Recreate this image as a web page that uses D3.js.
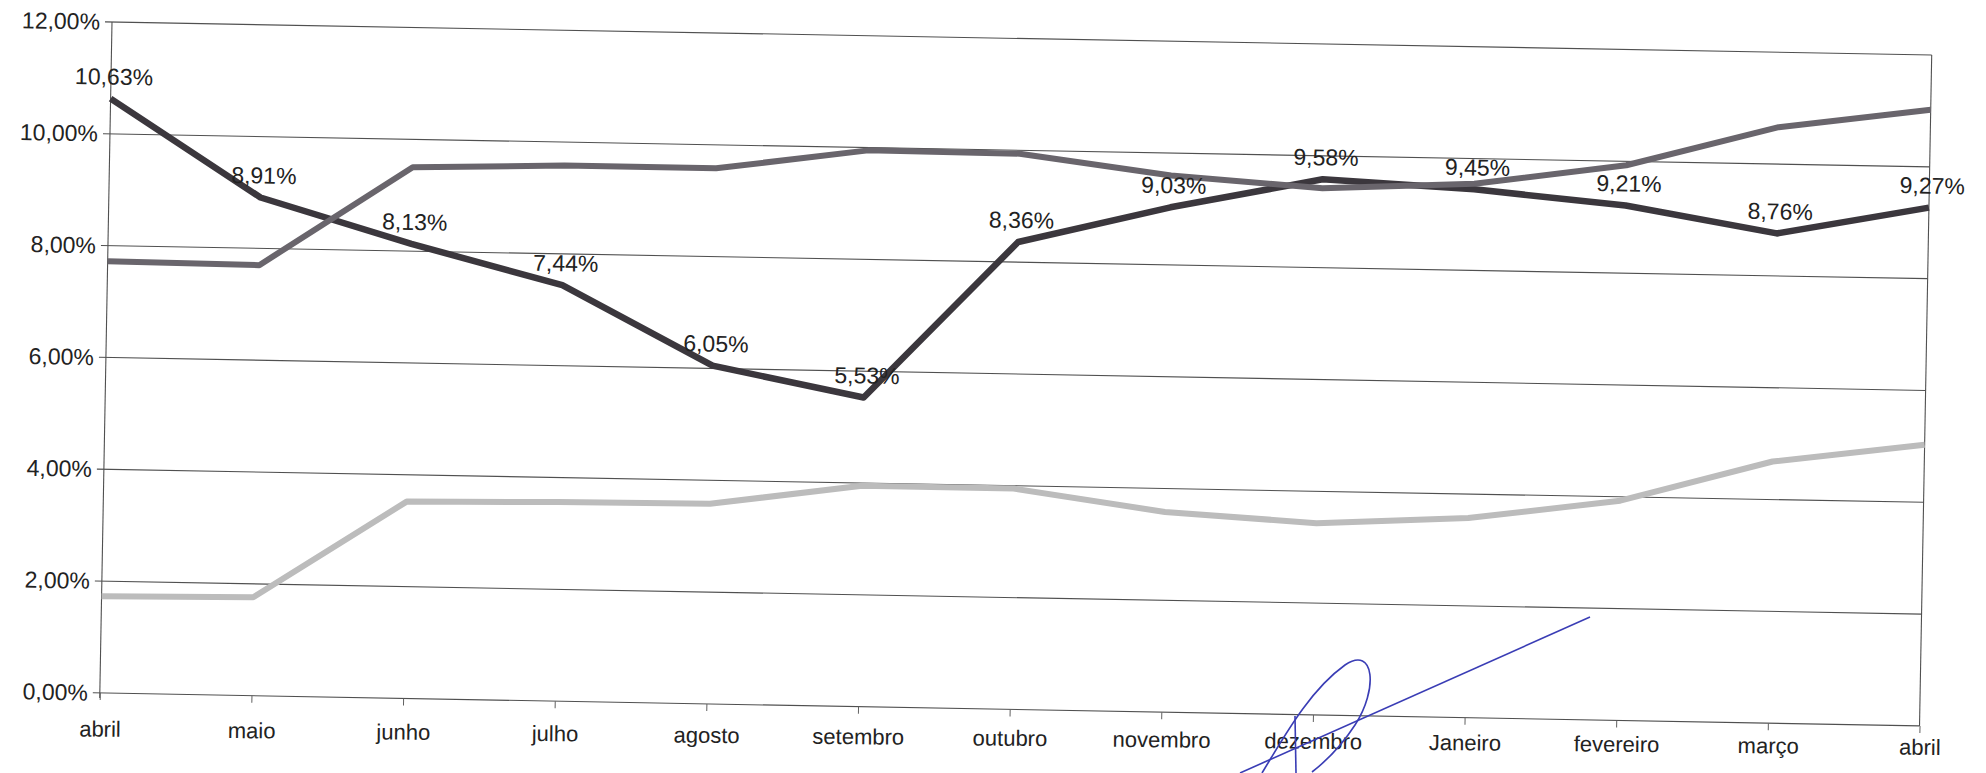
<!DOCTYPE html>
<html>
<head>
<meta charset="utf-8">
<script src="https://cdn.jsdelivr.net/npm/d3@7"></script>
<style>
  html, body { margin: 0; padding: 0; background: #ffffff; }
  svg { display: block; }
  text { font-family: "Liberation Sans", Arial, sans-serif; fill: #222222; }
</style>
</head>
<body>
<svg id="chart" width="1986" height="773"></svg>
<script>
// ---- data ----
const categories = ["abril","maio","junho","julho","agosto","setembro","outubro","novembro","dezembro","Janeiro","fevereiro","março","abril"];
const seriesDark  = [10.63, 8.91, 8.13, 7.44, 6.05, 5.53, 8.36, 9.03, 9.58, 9.45, 9.21, 8.76, 9.27];
const seriesMid   = [7.72, 7.70, 9.50, 9.58, 9.58, 9.95, 9.94, 9.60, 9.42, 9.55, 9.93, 10.66, 11.02];
const seriesLight = [1.73, 1.76, 3.52, 3.56, 3.58, 3.95, 3.95, 3.58, 3.43, 3.57, 3.93, 4.68, 5.03];
const yTicks = [0, 2, 4, 6, 8, 10, 12];

// ---- layout ----
const plot = { left: 112, top: 22, width: 1820, height: 671 };
const skewDeg = 1.04;      // scanned page is slightly rotated
const labelSkewDeg = 0.57; // category labels drift less than the plot in the scan

const svg = d3.select("#chart");
const g = svg.append("g")
  .attr("transform", `translate(${plot.left},${plot.top}) rotate(${skewDeg})`);

const x = d3.scalePoint().domain(d3.range(categories.length)).range([0, plot.width]).padding(0);
const y = d3.scaleLinear().domain([0, 12]).range([plot.height, 0]);

const pt = d3.formatLocale({ decimal: ",", thousands: ".", grouping: [3], currency: ["", ""] });
const fmt = v => pt.format(".2f")(v) + "%";

// gridlines
g.append("g").selectAll("line").data(yTicks).join("line")
  .attr("x1", -7).attr("x2", plot.width)
  .attr("y1", d => y(d)).attr("y2", d => y(d))
  .attr("stroke", "#505050").attr("stroke-width", 1.1);

// left & right borders
g.append("line").attr("x1", 0).attr("x2", 0).attr("y1", 0).attr("y2", plot.height + 5)
  .attr("stroke", "#505050").attr("stroke-width", 1.1);
g.append("line").attr("x1", plot.width).attr("x2", plot.width).attr("y1", 0).attr("y2", plot.height)
  .attr("stroke", "#505050").attr("stroke-width", 1.1);

// y axis labels
const yAxis = d3.axisLeft(y).tickValues(yTicks).tickFormat(fmt).tickSize(0).tickPadding(12);
const ya = g.append("g").call(yAxis);
ya.select(".domain").remove();
ya.selectAll("text").style("font-size", "23px").style("font-family", "Liberation Sans, Arial, sans-serif").attr("fill", "#222");

// x axis ticks
const xAxis = d3.axisBottom(x).tickFormat("").tickSize(7);
const xa = g.append("g").attr("transform", `translate(0,${plot.height})`).call(xAxis);
xa.select(".domain").remove();
xa.selectAll("line").attr("stroke", "#606060");

// x axis category labels
const xl = svg.append("g")
  .attr("transform", `translate(${plot.left - 12},${plot.top + plot.height + 36}) rotate(${labelSkewDeg})`);
xl.selectAll("text").data(categories).join("text")
  .attr("x", (d, i) => x(i))
  .attr("y", 0)
  .attr("dy", "0.35em")
  .attr("text-anchor", "middle")
  .style("font-size", "22px")
  .text(d => d);

// lines
const line = d3.line().x((d, i) => x(i)).y(d => y(d));
g.append("path").datum(seriesDark).attr("d", line)
  .attr("fill", "none").attr("stroke", "#3b373d").attr("stroke-width", 6.5).attr("stroke-linejoin", "round");
g.append("path").datum(seriesMid).attr("d", line)
  .attr("fill", "none").attr("stroke", "#69656c").attr("stroke-width", 6).attr("stroke-linejoin", "round");
g.append("path").datum(seriesLight).attr("d", line)
  .attr("fill", "none").attr("stroke", "#bcbcbc").attr("stroke-width", 6).attr("stroke-linejoin", "round");

// data labels
g.append("g").selectAll("text").data(seriesDark).join("text")
  .attr("x", (d, i) => x(i) + 3)
  .attr("y", d => y(d) - 14)
  .attr("text-anchor", "middle")
  .style("font-size", "23px")
  .text(d => fmt(d));

// pen signature overlay (annotation on the scanned page)
svg.append("path")
  .attr("d", "M1240,773 L1590,617")
  .attr("fill", "none").attr("stroke", "#3a3db5").attr("stroke-width", 1.6);
svg.append("path")
  .attr("d", "M1262,773 C1285,735 1310,690 1345,665 C1375,645 1378,690 1355,725 C1340,748 1325,762 1312,772")
  .attr("fill", "none").attr("stroke", "#3a3db5").attr("stroke-width", 1.6);
svg.append("path")
  .attr("d", "M1295,716 L1296,773")
  .attr("fill", "none").attr("stroke", "#3a3db5").attr("stroke-width", 1.6);
</script>
</body>
</html>
